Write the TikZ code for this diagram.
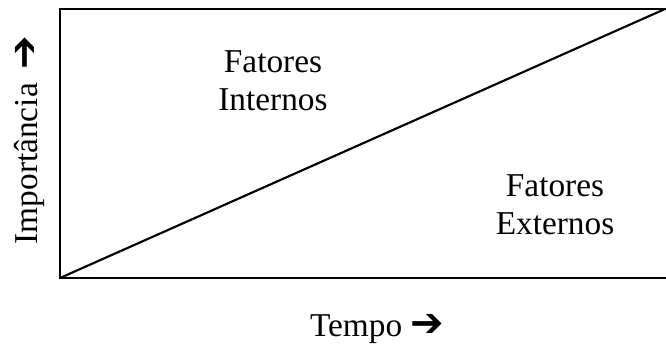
\documentclass[tikz,border=0pt]{standalone}
\usepackage{fontspec}
\setmainfont{Liberation Serif}
\newfontfamily\arrowfont{DejaVu Sans}
\tikzset{
  lbl/.style={font=\fontsize{25}{28.5}\selectfont, align=center, inner sep=0pt},
  frame/.style={line width=1.6pt},
  diag/.style={line width=1.6pt}
}
\newcommand{\bigarrow}{{\arrowfont\bfseries\fontsize{30}{30}\selectfont ➔}}
\begin{document}
\begin{tikzpicture}[x=0.75pt,y=-0.75pt]
\useasboundingbox (0,0) rectangle (666,345);
\coordinate (tl) at (60,9);
\coordinate (bl) at (60,278);
\coordinate (tr) at (667,9);
\coordinate (br) at (667,278);
\coordinate (de) at (665,9);
\draw[frame] (tr) -- (tl) -- (bl) -- (br);
\draw[diag] (bl) -- (de);
\node[lbl] (int) at (273,81) {Fatores\\Internos};
\node[lbl] (ext) at (555,205) {Fatores\\Externos};
\node[lbl, anchor=base] (tempo) at (377,336) {Tempo \bigarrow};
\node[lbl, rotate=90, anchor=base] (imp) at (37,140) {Importância \,\bigarrow};
\end{tikzpicture}
\end{document}
